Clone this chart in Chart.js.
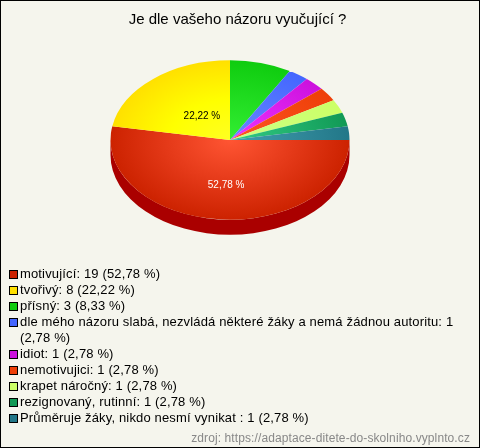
<!DOCTYPE html>
<html lang="cs">
<head>
<meta charset="utf-8">
<script src="https://cdn.jsdelivr.net/npm/chart.js@4/dist/chart.umd.min.js"></script>
<style>
html,body{margin:0;padding:0;background:#f5f5ed;}
#frame{position:relative;width:480px;height:448px;box-sizing:border-box;background:#f5f5ed;overflow:hidden;}
#frame::after{content:"";position:absolute;inset:0;border:1px solid #000;pointer-events:none;}
canvas{position:absolute;left:0;top:0;}
#legend{position:absolute;left:8px;top:266px;width:450px;font:13px/16px "Liberation Sans",Arial,sans-serif;color:#000;letter-spacing:.15px;}
#legend div{position:relative;padding-left:12px;}
#legend i{position:absolute;left:1px;top:4px;width:7px;height:7px;border:1px solid #000;}
#source{position:absolute;right:10px;top:431px;font:12px "Liberation Sans",Arial,sans-serif;color:#888;letter-spacing:.1px;}
</style>
</head>
<body>
<div id="frame">
<canvas id="c" width="480" height="448"></canvas>
<div id="legend"></div>
<div id="source">zdroj: https://adaptace-ditete-do-skolniho.vyplnto.cz</div>
</div>
<script>
const titleText = "Je dle vašeho názoru vyučující ?";
const categories = ["motivující","tvořivý","přísný","dle mého názoru slabá, nezvládá některé žáky a nemá žádnou autoritu","idiot","nemotivujici","krapet náročný","rezignovaný, rutinní","Průměruje žáky, nikdo nesmí vynikat "];
const counts = [19,8,3,1,1,1,1,1,1];
const percents = ["52,78","22,22","8,33","2,78","2,78","2,78","2,78","2,78","2,78"];
const edgeColors = ["#cc2200","#ffe000","#0fcc0f","#4466ff","#cc11dd","#ee3f08","#ccff66","#119955","#227788"];
const midColors = ["#e63b1a","#ffff00","#21dd21","#5577ff","#dd22ee","#f64a15","#ccff77","#22b36e","#338b9c"];
const centreColors = ["#ff5533","#ffff22","#33ee33","#6688ff","#ee33ff","#ff5522","#ccff88","#33cc88","#3f9fb0"];
const sideColor = "#aa0000";
const labelledSlices = [0,1];
const labelRadii = [0.56,0.39];
const labelColors = ["#ffffff","#000000"];
const pieCentre = {x:230,y:140};
const pieRadiusX = 120, pieRadiusY = 80, pieDepth = 15;

const legendEl = document.getElementById('legend');
categories.forEach((name,i)=>{
  const row = document.createElement('div');
  const sw = document.createElement('i');
  sw.style.background = edgeColors[i];
  row.appendChild(sw);
  row.appendChild(document.createTextNode(name+": "+counts[i]+" ("+percents[i]+" %)"));
  legendEl.appendChild(row);
});

const flatPie = {
  id:'flatPie',
  beforeDatasetsDraw(chart){
    const arc = chart.getDatasetMeta(0).data[0];
    const ctx = chart.ctx, s = pieRadiusY/pieRadiusX;
    ctx.save();
    ctx.translate(pieCentre.x,pieCentre.y);
    ctx.scale(1,s);
    ctx.translate(-arc.x,-arc.y);
    const r = arc.outerRadius, d = pieDepth/s;
    ctx.fillStyle = sideColor;
    ctx.beginPath();
    ctx.arc(arc.x,arc.y+d,r,0,Math.PI);
    ctx.lineTo(arc.x-r,arc.y);
    ctx.arc(arc.x,arc.y,r,Math.PI,0,true);
    ctx.closePath();
    ctx.fill();
  },
  afterDatasetsDraw(chart){
    const ctx = chart.ctx;
    ctx.restore();
    const arcs = chart.getDatasetMeta(0).data;
    ctx.save();
    ctx.font = '10px "Liberation Sans",Arial,sans-serif';
    ctx.textAlign = 'center';
    ctx.textBaseline = 'middle';
    labelledSlices.forEach((idx,k)=>{
      const a = arcs[idx];
      const mid = (a.startAngle+a.endAngle)/2;
      const x = pieCentre.x+Math.cos(mid)*labelRadii[k]*pieRadiusX+2;
      const y = pieCentre.y+Math.sin(mid)*labelRadii[k]*pieRadiusY+0.5;
      ctx.fillStyle = labelColors[k];
      ctx.fillText(percents[idx]+" %",x,y);
    });
    ctx.restore();
  }
};

new Chart(document.getElementById('c'),{
  type:'pie',
  plugins:[flatPie],
  data:{
    labels:categories,
    datasets:[{
      data:counts,
      clip:false,
      borderWidth:0,
      backgroundColor(c){
        const area = c.chart.chartArea;
        const i = c.dataIndex;
        if(!area) return edgeColors[i];
        const cx=(area.left+area.right)/2, cy=(area.top+area.bottom)/2;
        const g = c.chart.ctx.createRadialGradient(cx,cy,0,cx,cy,pieRadiusX);
        g.addColorStop(0,centreColors[i]);
        g.addColorStop(0.5,midColors[i]);
        g.addColorStop(1,edgeColors[i]);
        return g;
      }
    }]
  },
  options:{
    responsive:false,
    animation:false,
    rotation:90,
    layout:{padding:{left:0,right:5,top:0,bottom:176}},
    plugins:{
      legend:{display:false},
      tooltip:{enabled:false},
      title:{display:true,text:titleText,color:'#000',align:'center',
        font:{family:'"Liberation Sans",Arial,sans-serif',size:15,weight:'normal'},
        padding:{top:11,bottom:4}}
    }
  }
});
</script>
</body>
</html>
